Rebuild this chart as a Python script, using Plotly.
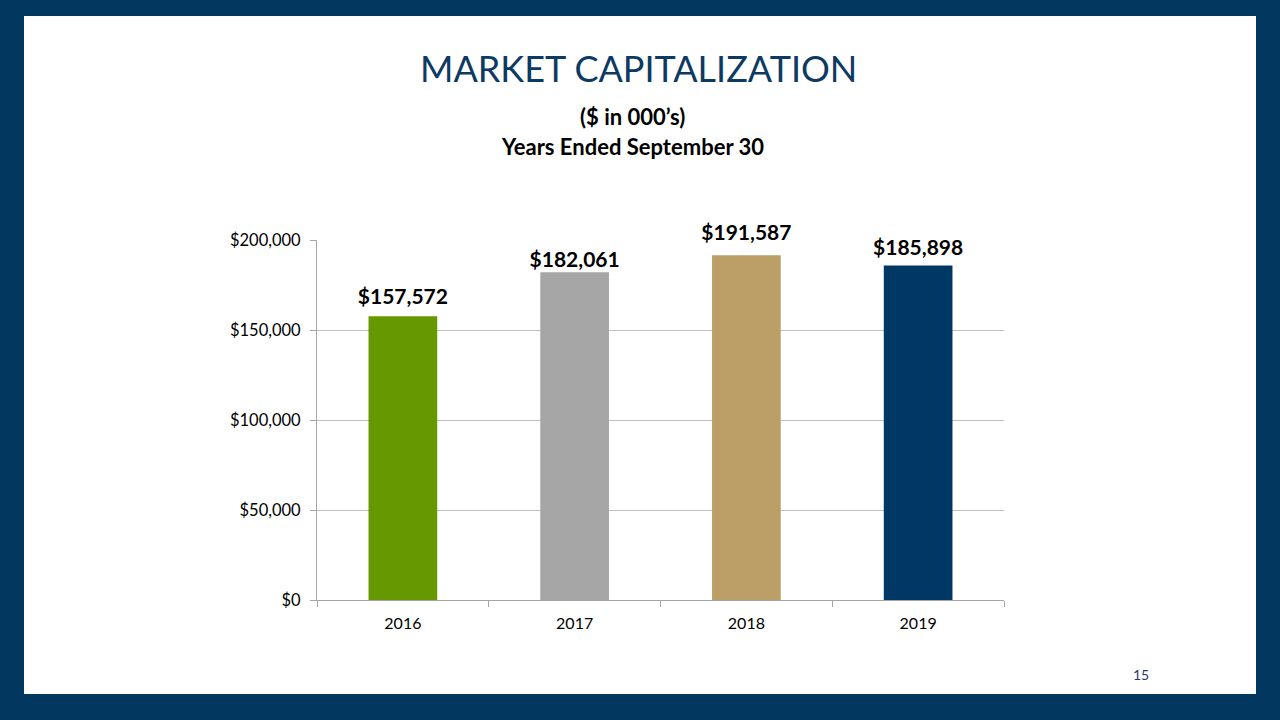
import plotly.graph_objects as go

# Data
years = ["2016", "2017", "2018", "2019"]
market_cap = [157572, 182061, 191587, 185898]
bar_colors = ["#669900", "#a6a6a6", "#bb9f66", "#003865"]
y_ticks = [0, 50000, 100000, 150000, 200000]
y_tick_text = [f"${v:,}" for v in y_ticks]

W, H = 1280, 720
NAVY = "#02375f"
FONT = "Lato"

fig = go.Figure()

fig.add_trace(go.Bar(
    x=years,
    y=market_cap,
    marker=dict(color=bar_colors, line=dict(width=0)),
    width=0.4,
    hoverinfo="skip",
))

# value labels: invisible markers push the text above the bar tops
# (the slide has the labels at slightly uneven heights)
label_pad = [9, 0, 15, 7]
fig.add_trace(go.Scatter(
    x=years,
    y=market_cap,
    mode="markers+text",
    marker=dict(size=label_pad, opacity=0),
    text=[f"<b>${v:,}</b>" for v in market_cap],
    textposition="top center",
    textfont=dict(family=FONT, size=21, color="#000000"),
    cliponaxis=False,
    hoverinfo="skip",
))

# white slide panel on a navy frame
fig.add_shape(type="rect", xref="paper", yref="paper",
              x0=24 / W, x1=1256 / W, y0=1 - 694 / H, y1=1 - 16 / H,
              fillcolor="white", line=dict(width=0), layer="below")

def label(text, x, y, size, color):
    fig.add_annotation(text=text, xref="paper", yref="paper",
                       x=x / W, y=1 - y / H, xanchor="center", yanchor="middle",
                       showarrow=False, font=dict(family=FONT, size=size, color=color))

label("MARKET CAPITALIZATION", 638, 68, 36, "#0d3a63")
label("<b>($ in 000’s)</b>", 632, 117, 22, "#000000")
label("<b>Years Ended September 30</b>", 632, 147, 22, "#000000")
label("15", 1141, 674, 14, "#1f3f66")

fig.update_layout(
    width=W, height=H, autosize=False,
    margin=dict(l=0, r=0, t=0, b=0, pad=0, autoexpand=False),
    paper_bgcolor=NAVY,
    plot_bgcolor="rgba(0,0,0,0)",
    showlegend=False,
    font=dict(family=FONT, color="#000000"),
    xaxis=dict(
        domain=[317 / W, 1004 / W],
        automargin=False,
        showline=True, linecolor="#a6a6a6", linewidth=1,
        ticks="outside", tickson="boundaries", ticklen=6, tickcolor="#a6a6a6",
        ticklabelstandoff=9,
        showgrid=False,
        tickfont=dict(family=FONT, size=16, color="#000000"),
        fixedrange=True,
    ),
    yaxis=dict(
        domain=[1 - 600 / H, 1 - 240 / H],
        automargin=False,
        range=[0, 200000],
        tickmode="array", tickvals=y_ticks, ticktext=y_tick_text,
        showline=True, linecolor="#a6a6a6", linewidth=1,
        ticks="outside", ticklen=6, tickcolor="#a6a6a6",
        ticklabelstandoff=6,
        showgrid=True, gridcolor="#bfbfbf", gridwidth=1,
        zeroline=False,
        tickfont=dict(family=FONT, size=16.5, color="#000000"),
        fixedrange=True,
    ),
)

fig.write_html("out.html", config={"displayModeBar": False, "responsive": False},
               default_width="1280px", default_height="720px",
               post_script="document.body.style.margin='0';document.body.style.overflow='hidden';")
